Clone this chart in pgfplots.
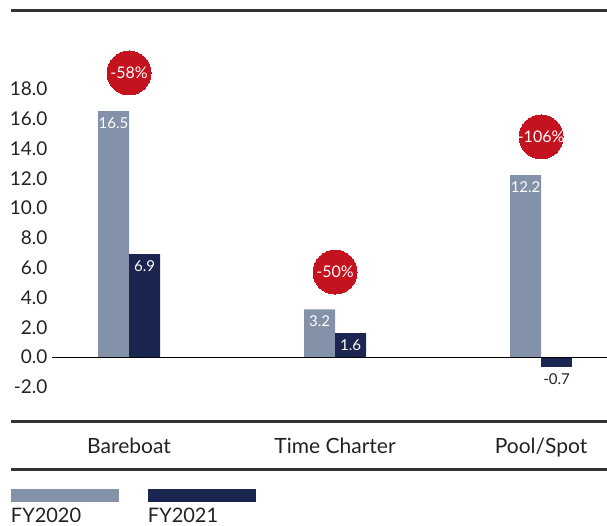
\documentclass[border=0pt]{standalone}
\usepackage{fontspec}
\setmainfont{Lato}
\usepackage{pgfplots}
\pgfplotsset{compat=1.18}
\definecolor{fyA}{HTML}{8391A9}
\definecolor{fyB}{HTML}{1A2550}
\definecolor{redc}{HTML}{C4121E}
\definecolor{txt}{HTML}{222222}
\definecolor{rulec}{HTML}{333333}
\begin{document}
\begin{tikzpicture}
\useasboundingbox (0,0) rectangle (607pt,526pt);
\begin{axis}[
  at={(52pt,104pt)}, anchor=south west,
  scale only axis, width=555pt, height=411pt,
  xmin=-0.374, xmax=2.32,
  ymin=-4.36, ymax=23.22,
  clip=false,
  axis line style={draw=none},
  tick style={draw=none},
  /pgf/number format/assume math mode=true,
  ytick={-2,0,...,18},
  yticklabel style={/pgf/number format/fixed, /pgf/number format/fixed zerofill, /pgf/number format/precision=1,
    /tikz/font=\fontsize{19}{19}\selectfont, /tikz/text=txt, /tikz/xshift=-1pt},
  xtick={0,1,2},
  xticklabels={Bareboat, Time Charter, Pool/Spot},
  xticklabel style={yshift=-13pt, font=\fontsize{21}{21}\selectfont, text=txt},
  legend style={at={(-0.0739,-0.2091)}, anchor=north west, draw=none, fill=none,
    inner sep=0pt, outer sep=0pt, column sep=0pt,
    nodes={inner sep=0pt, anchor=base west, text width=137pt, font=\fontsize{20}{20}\selectfont, text=txt}},
  legend columns=2,
  legend cell align=left,
  legend image code/.code={\fill[#1, overlay] (0pt,20pt) rectangle (108pt,33pt); \path (0pt,0pt);},
]
\addplot[ybar, bar width=31pt, bar shift=-15.5pt, fill=fyA, draw=none,
  nodes near coords,
  nodes near coords style={anchor=north, text=white, yshift=-3pt, xshift=-15.5pt, font=\fontsize{15}{15}\selectfont}]
  coordinates {(0,16.5) (1,3.2) (2,12.2)};
\addlegendentry{FY2020}
\addplot[ybar, bar width=31pt, bar shift=15.5pt, fill=fyB, draw=none,
  nodes near coords,
  nodes near coords style={anchor=north, text=white, yshift=-3pt, xshift=15.5pt, font=\fontsize{15}{15}\selectfont}]
  coordinates {(0,6.9) (1,1.6)};
\addlegendentry{FY2021}
\addplot[ybar, bar width=31pt, bar shift=15.5pt, fill=fyB, draw=none, forget plot,
  nodes near coords,
  nodes near coords style={anchor=north, text=txt, yshift=-3pt, xshift=15.5pt, font=\fontsize{15}{15}\selectfont}]
  coordinates {(2,-0.7)};
\addplot[only marks, mark=*, mark size=22pt, color=redc, forget plot,
  mark options={draw=redc, fill=redc, line width=0pt},
  point meta=explicit symbolic,
  nodes near coords,
  nodes near coords style={anchor=center, text=white, font=\fontsize{16}{16}\selectfont}]
  coordinates {(0,19.06) [-58\%] (1,5.7) [-50\%] (2,14.77) [-106\%]};
\draw[line width=1pt, black] (axis cs:-0.374,0) -- (axis cs:2.32,0);
\draw[line width=3pt, rulec] (rel axis cs:-0.0739,1) -- (rel axis cs:1,1);
\draw[line width=3pt, rulec] (rel axis cs:-0.0739,0) -- (rel axis cs:1,0);
\draw[line width=3pt, rulec] (rel axis cs:-0.0739,-0.1144) -- (rel axis cs:1,-0.1144);
\end{axis}
\end{tikzpicture}
\end{document}
